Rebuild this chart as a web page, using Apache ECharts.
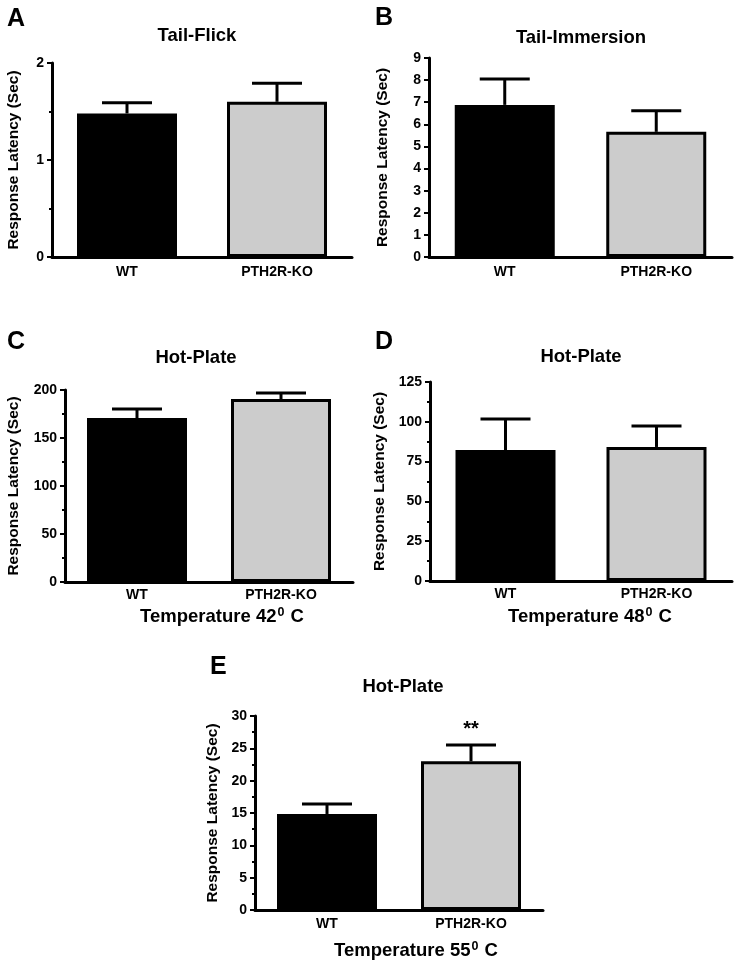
<!DOCTYPE html>
<html>
<head>
<meta charset="utf-8">
<script src="https://cdn.jsdelivr.net/npm/echarts@6/dist/echarts.min.js"></script>
<style>
html,body{margin:0;padding:0;background:#fff;}
#chart{width:739px;height:971px;}
</style>
</head>
<body>
<div id="chart"></div>
<script>
// ---- data ----
const categories = ['WT', 'PTH2R-KO'];
const panelLetters = ['A', 'B', 'C', 'D', 'E'];
const panelTitles = ['Tail-Flick', 'Tail-Immersion', 'Hot-Plate', 'Hot-Plate', 'Hot-Plate'];
const meanA = [1.48, 1.60];   const errA = [0.11, 0.19];
const meanB = [6.88, 5.66];   const errB = [1.17, 0.95];
const meanC = [170.8, 190.6]; const errC = [9.4, 6.3];
const meanD = [82.3, 84.2];   const errD = [19.5, 13.2];
const meanE = [14.85, 23.0];  const errE = [1.55, 2.5];
const sigE = ['', '**'];
const yMaxes = [2, 9, 200, 125, 30];
const yIntervals = [1, 1, 50, 25, 5];
const yMinor = [true, false, true, true, true];
const yAxisName = 'Response Latency (Sec)';
const temperatures = ['', '', '42', '48', '55'];

const means = [meanA, meanB, meanC, meanD, meanE];
const errs = [errA, errB, errC, errD, errE];
const sigs = [['', ''], ['', ''], ['', ''], ['', ''], sigE];

// ---- layout (pixels) ----
const FONT = '"Liberation Sans", Arial, sans-serif';
const grids = [
  { left: 52, top: 63, width: 300, height: 194 },
  { left: 429, top: 58, width: 303, height: 199 },
  { left: 65, top: 390, width: 288, height: 192 },
  { left: 430, top: 382, width: 302, height: 199 },
  { left: 255, top: 716, width: 288, height: 194 }
];
const nameGaps = [30, 38, 43, 42, 34];
const catMargins = [8, 8, 6, 6, 7];
const letterPos = [[7, 19], [375, 18], [7, 342], [375, 342], [210, 667]];
const titlePos = [[197, 36], [581, 38], [196, 358], [581, 357], [403, 687]];
const tempPos = [null, null, [222, 617], [590, 617], [416, 951]];

const chart = echarts.init(document.getElementById('chart'));

const xAxes = [], yAxes = [], series = [], graphics = [];
for (let i = 0; i < 5; i++) {
  xAxes.push({
    type: 'category', gridIndex: i, data: categories,
    axisLine: { lineStyle: { color: '#000', width: 3 } },
    axisTick: { show: false },
    axisLabel: { color: '#000', fontWeight: 'bold', fontSize: 14, fontFamily: FONT, margin: catMargins[i] }
  });
  yAxes.push({
    type: 'value', gridIndex: i, min: 0, max: yMaxes[i], interval: yIntervals[i],
    name: yAxisName, nameLocation: 'middle', nameRotate: 90, nameGap: nameGaps[i],
    nameTextStyle: { color: '#000', fontWeight: 'bold', fontSize: 15.5, fontFamily: FONT },
    axisLine: { show: true, lineStyle: { color: '#000', width: 3 } },
    axisTick: { show: true, length: 5, lineStyle: { color: '#000', width: 2 } },
    minorTick: { show: yMinor[i], splitNumber: 2, length: 3, lineStyle: { color: '#000', width: 2 } },
    splitLine: { show: false },
    axisLabel: { color: '#000', fontWeight: 'bold', fontSize: 14, fontFamily: FONT, margin: 8 }
  });
  series.push({
    type: 'bar', xAxisIndex: i, yAxisIndex: i, barWidth: 100,
    data: means[i].map((v, k) => ({
      value: v,
      itemStyle: k === 0
        ? { color: '#000', borderColor: '#000', borderWidth: 3 }
        : { color: '#cccccc', borderColor: '#000', borderWidth: 3 }
    })),
    z: 2, silent: true
  });
  series.push({
    type: 'custom', xAxisIndex: i, yAxisIndex: i, z: 5, silent: true,
    encode: { x: 0, y: 1 },
    data: means[i].map((v, k) => [k, v, errs[i][k], sigs[i][k]]),
    renderItem: function (params, api) {
      const x = api.value(0), m = api.value(1), e = api.value(2);
      const s = sigs[i][params.dataIndex];
      const base = api.coord([x, m]);
      const top = api.coord([x, m + e]);
      const children = [
        { type: 'line', shape: { x1: base[0], y1: base[1], x2: top[0], y2: top[1] }, style: { stroke: '#000', lineWidth: 3 } },
        { type: 'line', shape: { x1: top[0] - 25, y1: top[1], x2: top[0] + 25, y2: top[1] }, style: { stroke: '#000', lineWidth: 3 } }
      ];
      if (s) {
        children.push({ type: 'text', x: top[0], y: top[1] - 6, style: { text: s, fill: '#000', font: 'bold 20px ' + FONT, textAlign: 'center', textVerticalAlign: 'bottom' } });
      }
      return { type: 'group', children: children };
    }
  });
  graphics.push({ type: 'text', x: letterPos[i][0], y: letterPos[i][1], style: { text: panelLetters[i], fill: '#000', font: 'bold 25px ' + FONT, textAlign: 'left', textVerticalAlign: 'middle' } });
  graphics.push({ type: 'text', x: titlePos[i][0], y: titlePos[i][1], style: { text: panelTitles[i], fill: '#000', font: 'bold 18.5px ' + FONT, textAlign: 'center', textVerticalAlign: 'middle' } });
  if (temperatures[i]) {
    graphics.push({
      type: 'text', x: tempPos[i][0], y: tempPos[i][1],
      style: {
        text: 'Temperature ' + temperatures[i] + '{sup|0} C',
        fill: '#000', fontFamily: FONT, fontWeight: 'bold', fontSize: 18.5,
        textAlign: 'center', textVerticalAlign: 'middle',
        rich: { sup: { fontSize: 12.5, fontWeight: 'bold', fontFamily: FONT, fill: '#000', verticalAlign: 'top', padding: [0, 1, 9, 1] } }
      }
    });
  }
}

chart.setOption({
  backgroundColor: '#fff',
  animation: false,
  grid: grids.map(g => Object.assign({ containLabel: false }, g)),
  xAxis: xAxes,
  yAxis: yAxes,
  series: series,
  graphic: graphics
});
</script>
</body>
</html>
